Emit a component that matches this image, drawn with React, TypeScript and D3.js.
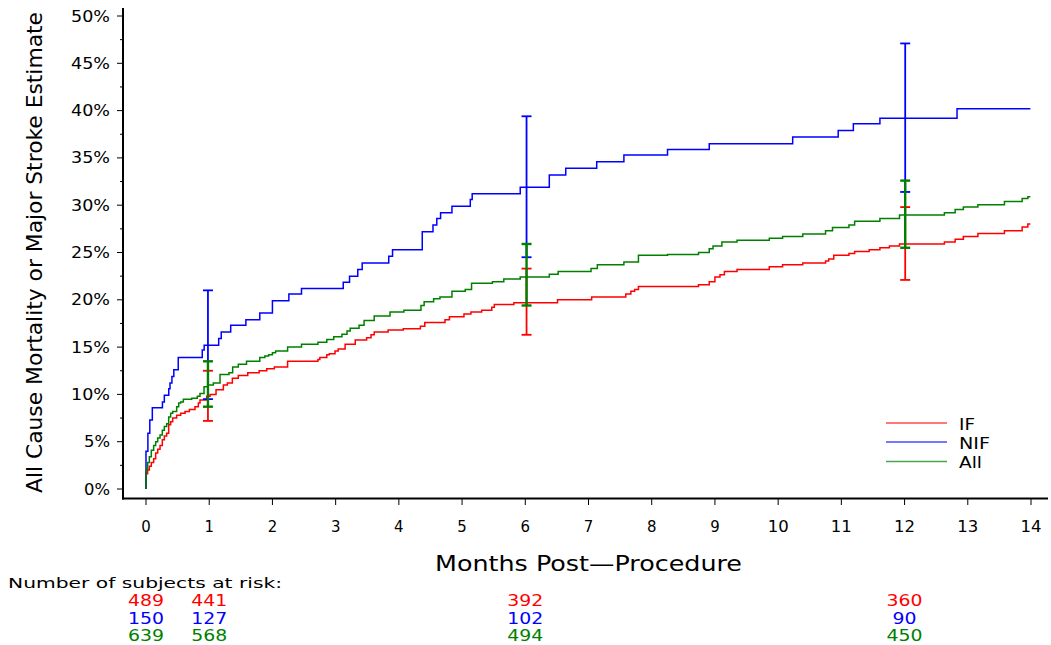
import React from "react";
import * as d3 from "d3";

// ---- Data (months, cumulative event %) ----
const ifSteps: [number, number][] = [
  [0, 0], [0.0, 1.6], [0.026, 2.0], [0.053, 2.4], [0.084, 2.8], [0.121, 3.2], [0.153, 3.8], [0.185, 4.2],
  [0.222, 4.6], [0.258, 5.2], [0.29, 5.6], [0.327, 5.9], [0.359, 6.8], [0.39, 7.1], [0.422, 7.5],
  [0.485, 7.8], [0.549, 8.0], [0.617, 8.2], [0.686, 8.4], [0.775, 8.7], [0.828, 9.1], [0.854, 9.4],
  [0.96, 9.8], [1.013, 10.0], [1.108, 10.5], [1.224, 11.0], [1.287, 11.2], [1.366, 11.7], [1.46, 12.0],
  [1.61, 12.3], [1.79, 12.5], [1.91, 12.7], [2.03, 12.9], [2.24, 13.5], [2.72, 13.7], [2.75, 13.9],
  [2.86, 14.2], [2.9, 14.3], [2.99, 14.6], [3.04, 14.8], [3.15, 15.3], [3.31, 15.75], [3.49, 16.0],
  [3.56, 16.3], [3.61, 16.6], [3.83, 16.8], [4.07, 16.95], [4.34, 17.2], [4.41, 17.6], [4.73, 17.9],
  [4.8, 18.2], [5.03, 18.5], [5.14, 18.7], [5.31, 18.9], [5.47, 19.2], [5.51, 19.5], [5.82, 19.7],
  [6.51, 20.0], [7.05, 20.3], [7.59, 20.6], [7.67, 20.9], [7.73, 21.1], [7.79, 21.4], [8.74, 21.6],
  [8.91, 21.9], [9.0, 22.4], [9.08, 22.65], [9.15, 23.0], [9.35, 23.2], [9.86, 23.5], [10.07, 23.7],
  [10.39, 23.9], [10.75, 24.1], [10.8, 24.3], [10.88, 24.7], [11.12, 24.9], [11.21, 25.1], [11.44, 25.3],
  [11.61, 25.5], [11.76, 25.7], [11.92, 25.9], [12.63, 26.1], [12.8, 26.4], [12.93, 26.7], [13.16, 27.0],
  [13.58, 27.3], [13.86, 27.7], [13.95, 28.0], [13.99, 28.0],
];

const nifSteps: [number, number][] = [
  [0, 0], [0.0, 4.0], [0.03, 5.9], [0.06, 7.3], [0.1, 8.6], [0.26, 9.2], [0.29, 9.9], [0.36, 10.6],
  [0.38, 11.2], [0.41, 11.9], [0.44, 12.6], [0.51, 13.9], [0.89, 14.7], [0.92, 15.2], [1.15, 15.9],
  [1.19, 16.6], [1.34, 17.3], [1.58, 17.9], [1.8, 18.6], [2.0, 19.9], [2.26, 20.6], [2.46, 21.2],
  [3.12, 21.85], [3.22, 22.5], [3.35, 23.2], [3.42, 23.9], [3.84, 24.6], [3.9, 25.3], [4.37, 27.2],
  [4.54, 27.9], [4.6, 28.6], [4.66, 29.2], [4.84, 29.9], [5.13, 30.6], [5.16, 31.2], [5.92, 31.9],
  [6.38, 33.2], [6.64, 33.9], [7.13, 34.6], [7.56, 35.3], [8.25, 35.9], [8.91, 36.5], [10.23, 37.2],
  [10.95, 37.9], [11.19, 38.6], [11.61, 39.2], [12.83, 40.2], [13.99, 40.2],
];

const allSteps: [number, number][] = [
  [0, 0], [0.0, 2.1], [0.026, 2.8], [0.053, 3.4], [0.084, 4.1], [0.121, 4.6], [0.153, 5.0], [0.185, 5.4],
  [0.222, 5.7], [0.258, 6.2], [0.29, 6.6], [0.327, 6.9], [0.359, 7.6], [0.39, 8.0], [0.422, 8.2],
  [0.485, 8.7], [0.517, 9.1], [0.549, 9.2], [0.591, 9.5], [0.723, 9.6], [0.812, 9.8], [0.854, 10.1],
  [0.918, 10.8], [0.976, 11.0], [1.065, 11.2], [1.171, 12.1], [1.313, 12.3], [1.371, 12.9], [1.46, 13.2],
  [1.59, 13.5], [1.8, 13.9], [1.88, 14.06], [1.94, 14.2], [2.0, 14.4], [2.05, 14.6], [2.24, 15.0],
  [2.46, 15.3], [2.72, 15.5], [2.86, 15.8], [2.97, 16.1], [3.1, 16.35], [3.18, 16.7], [3.23, 17.0],
  [3.37, 17.3], [3.45, 17.8], [3.61, 18.3], [3.86, 18.7], [4.08, 18.9], [4.35, 19.4], [4.4, 19.8],
  [4.55, 20.1], [4.65, 20.3], [4.84, 20.9], [5.05, 21.1], [5.15, 21.75], [5.48, 21.9], [5.66, 22.2],
  [5.92, 22.4], [6.38, 22.7], [6.52, 23.0], [7.04, 23.3], [7.14, 23.7], [7.56, 24.0], [7.79, 24.7],
  [8.25, 24.8], [8.74, 25.0], [8.91, 25.4], [8.97, 25.7], [9.11, 26.1], [9.35, 26.3], [9.86, 26.5],
  [10.07, 26.7], [10.39, 26.95], [10.75, 27.3], [10.86, 27.65], [11.12, 27.9], [11.21, 28.3],
  [11.61, 28.6], [11.92, 28.96], [12.63, 29.2], [12.8, 29.55], [12.93, 29.8], [13.16, 30.05],
  [13.58, 30.4], [13.86, 30.7], [13.95, 30.9], [13.99, 30.9],
];

const ciMonths = [0.98, 6.02, 12.01];
const ifLower = [7.2, 16.3, 22.1];
const ifUpper = [12.5, 23.3, 29.8];
const nifLower = [9.5, 24.5, 31.4];
const nifUpper = [21.0, 39.4, 47.1];
const allLower = [8.7, 19.4, 25.5];
const allUpper = [13.5, 25.9, 32.6];

const groupNames = ["IF", "NIF", "All"];
const groupColors = ["#ff0000", "#0000ff", "#008000"];

const riskMonths = [0, 1, 6, 12];
const ifRisk = [489, 441, 392, 360];
const nifRisk = [150, 127, 102, 90];
const allRisk = [639, 568, 494, 450];

const xTicks = d3.range(0, 15);
const yTicks = d3.range(0, 55, 5);
const yMinorTicks = d3.range(2.5, 50, 5);

const FONT = "'DejaVu Sans', Verdana, sans-serif";

export default function App() {
  const x = d3.scaleLinear().domain([0, 14]).range([146, 1031]);
  const y = d3.scaleLinear().domain([0, 50]).range([489, 16]);
  const line = d3
    .line<[number, number]>()
    .x((d) => x(d[0]))
    .y((d) => y(d[1]))
    .curve(d3.curveStepAfter);

  const series = [
    { steps: ifSteps, lo: ifLower, hi: ifUpper, risk: ifRisk },
    { steps: nifSteps, lo: nifLower, hi: nifUpper, risk: nifRisk },
    { steps: allSteps, lo: allLower, hi: allUpper, risk: allRisk },
  ];

  const riskBaselines = [606, 623.5, 641];
  const legendY = [423, 442, 461.5];
  const legendW = [16, 31, 23];

  return (
    <svg
      width={1051}
      height={645}
      style={{ position: "absolute", left: 0, top: 0, background: "#fff" }}
      fontFamily={FONT}
    >
      <rect x={0} y={0} width={1051} height={645} fill="#fff" />
      {/* curves */}
      {series.map((s, i) => (
        <path key={"c" + i} d={line(s.steps) || ""} fill="none" stroke={groupColors[i]} strokeWidth={1.5} />
      ))}
      {/* error bars */}
      {series.map((s, i) => (
        <g key={"e" + i} stroke={groupColors[i]} strokeWidth={i === 2 ? 2.4 : 1.8}>
          {ciMonths.map((m, j) => (
            <g key={j}>
              <line x1={x(m)} x2={x(m)} y1={y(s.lo[j])} y2={y(s.hi[j])} />
              <line x1={x(m) - 5} x2={x(m) + 5} y1={y(s.lo[j])} y2={y(s.lo[j])} />
              <line x1={x(m) - 5} x2={x(m) + 5} y1={y(s.hi[j])} y2={y(s.hi[j])} />
            </g>
          ))}
        </g>
      ))}

      {/* axes */}
      <line x1={123} x2={123} y1={8} y2={499.5} stroke="#000" strokeWidth={2} />
      <line x1={122} x2={1048} y1={498.5} y2={498.5} stroke="#000" strokeWidth={2} />
      {yTicks.map((t) => (
        <g key={"yt" + t}>
          <line x1={117} x2={123} y1={y(t)} y2={y(t)} stroke="#000" strokeWidth={1} />
          <text
            x={110}
            y={y(t) + 5.5}
            textAnchor="end"
            fontSize={15.5}
            textLength={t >= 10 ? 39 : 26}
            lengthAdjust="spacingAndGlyphs"
          >
            {t + "%"}
          </text>
        </g>
      ))}
      {yMinorTicks.map((t) => (
        <line key={"ym" + t} x1={120} x2={123} y1={y(t)} y2={y(t)} stroke="#000" strokeWidth={1} />
      ))}
      {xTicks.map((t) => (
        <g key={"xt" + t}>
          <line x1={x(t)} x2={x(t)} y1={499} y2={505} stroke="#000" strokeWidth={1} />
          <text
            x={x(t)}
            y={532}
            textAnchor="middle"
            fontSize={16}
            textLength={t >= 10 ? 21 : 9.5}
            lengthAdjust="spacingAndGlyphs"
          >
            {t}
          </text>
        </g>
      ))}

      {/* axis titles */}
      <text x={588.5} y={571} textAnchor="middle" fontSize={21} textLength={307} lengthAdjust="spacingAndGlyphs">
        Months Post—Procedure
      </text>
      <text
        transform="translate(42,252.5) rotate(-90)"
        textAnchor="middle"
        fontSize={21}
        textLength={481}
        lengthAdjust="spacingAndGlyphs"
      >
        All Cause Mortality or Major Stroke Estimate
      </text>

      {/* legend */}
      {groupNames.map((g, i) => (
        <g key={"lg" + i}>
          <line x1={886} x2={947} y1={legendY[i]} y2={legendY[i]} stroke={groupColors[i]} strokeWidth={1.6} opacity={0.7} />
          <text x={959} y={legendY[i] + 6.5} fontSize={15} textLength={legendW[i]} lengthAdjust="spacingAndGlyphs">
            {g}
          </text>
        </g>
      ))}

      {/* at-risk table */}
      <text x={8} y={588} fontSize={14} textLength={274} lengthAdjust="spacingAndGlyphs">
        Number of subjects at risk:
      </text>
      {series.map((s, i) =>
        riskMonths.map((m, j) => (
          <text
            key={"r" + i + "-" + j}
            x={x(m)}
            y={riskBaselines[i]}
            textAnchor="middle"
            fontSize={15}
            fill={groupColors[i]}
            textLength={String(s.risk[j]).length * 12}
            lengthAdjust="spacingAndGlyphs"
          >
            {s.risk[j]}
          </text>
        ))
      )}
    </svg>
  );
}
